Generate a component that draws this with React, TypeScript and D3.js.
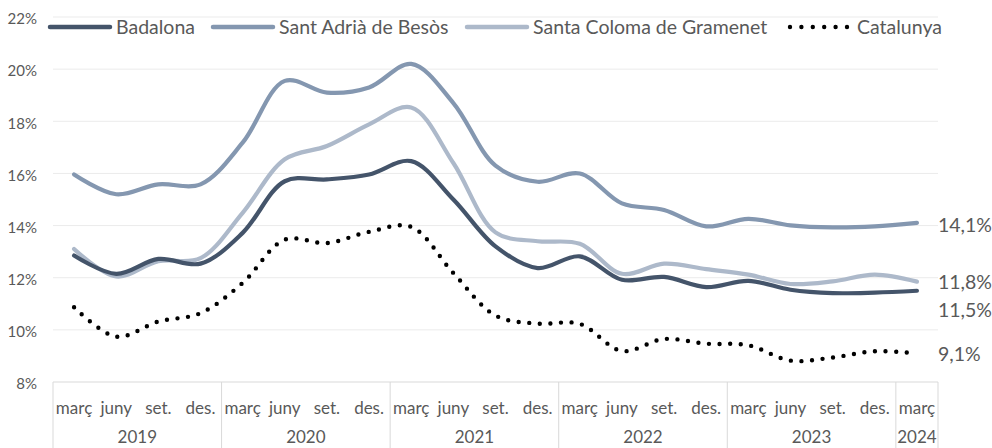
import React, { useEffect, useRef } from "react";
import * as d3 from "d3";

// quarterly labels, 2019 Q1 .. 2024 Q1
const quarters = [
  "març", "juny", "set.", "des.",
  "març", "juny", "set.", "des.",
  "març", "juny", "set.", "des.",
  "març", "juny", "set.", "des.",
  "març", "juny", "set.", "des.",
  "març",
];
const years = ["2019", "2020", "2021", "2022", "2023", "2024"];
const quartersPerYear = [4, 4, 4, 4, 4, 1];

const badalona = [12.85, 12.15, 12.72, 12.54, 13.72, 15.7, 15.77, 15.96, 16.47, 15.0, 13.2, 12.37, 12.82, 11.92, 12.03, 11.64, 11.88, 11.54, 11.41, 11.43, 11.5];
const santAdria = [15.96, 15.2, 15.58, 15.58, 17.18, 19.55, 19.1, 19.3, 20.2, 18.7, 16.3, 15.68, 16.0, 14.85, 14.6, 13.97, 14.26, 14.01, 13.93, 13.97, 14.1];
const santaColoma = [13.1, 12.05, 12.63, 12.75, 14.49, 16.54, 17.05, 17.88, 18.53, 16.4, 13.74, 13.4, 13.3, 12.15, 12.54, 12.33, 12.12, 11.76, 11.86, 12.12, 11.85];
const catalunya = [10.87, 9.74, 10.32, 10.64, 11.8, 13.46, 13.33, 13.76, 13.95, 12.18, 10.55, 10.24, 10.23, 9.19, 9.65, 9.47, 9.41, 8.82, 8.94, 9.18, 9.1];

const yTicks = [8, 10, 12, 14, 16, 18, 20, 22];

const series = [
  { name: "Badalona", values: badalona, color: "#44546a", dotted: false, labelShift: 19 },
  { name: "Sant Adrià de Besòs", values: santAdria, color: "#8497b0", dotted: false, labelShift: 2 },
  { name: "Santa Coloma de Gramenet", values: santaColoma, color: "#adb9ca", dotted: false, labelShift: 1 },
  { name: "Catalunya", values: catalunya, color: "#000000", dotted: true, labelShift: 1 },
];

const legendPos = [48, 211, 465, 787];

const W = 992;
const H = 448;
const FONT = "Lato, 'Open Sans', sans-serif";
const TEXT = "#595959";

export default function App() {
  const svgRef = useRef<SVGSVGElement>(null);

  useEffect(() => {
    const svg = d3.select(svgRef.current);
    svg.selectAll("*").remove();

    const left = 53;
    const right = 938;
    const top = 17;
    const bottom = 382;

    const x = d3
      .scaleBand<number>()
      .domain(d3.range(quarters.length))
      .range([left, right]);
    const cx = (i: number) => (x(i) as number) + x.bandwidth() / 2;
    const y = d3.scaleLinear().domain([8, 22]).range([bottom, top]);

    // gridlines
    svg
      .append("g")
      .selectAll("line")
      .data(yTicks.slice(1))
      .enter()
      .append("line")
      .attr("x1", left)
      .attr("x2", right)
      .attr("y1", (d) => y(d))
      .attr("y2", (d) => y(d))
      .attr("stroke", "#ebebeb")
      .attr("stroke-width", 1);

    // y tick labels
    svg
      .append("g")
      .selectAll("text")
      .data(yTicks)
      .enter()
      .append("text")
      .attr("x", 37)
      .attr("y", (d) => y(d) + 2)
      .attr("dy", "0.35em")
      .attr("text-anchor", "end")
      .style("font-family", FONT)
      .style("font-size", "15px")
      .style("fill", TEXT)
      .text((d) => `${d}%`);

    // category axis box
    const axis = svg.append("g");
    axis
      .append("line")
      .attr("x1", left)
      .attr("x2", right)
      .attr("y1", bottom)
      .attr("y2", bottom)
      .attr("stroke", "#d9d9d9");

    let start = 0;
    const yearStarts: number[] = [];
    quartersPerYear.forEach((n) => {
      yearStarts.push(start);
      start += n;
    });
    const separators = [...yearStarts, quarters.length];
    axis
      .selectAll("line.sep")
      .data(separators)
      .enter()
      .append("line")
      .attr("class", "sep")
      .attr("x1", (i) => (i < quarters.length ? (x(i) as number) : right))
      .attr("x2", (i) => (i < quarters.length ? (x(i) as number) : right))
      .attr("y1", bottom)
      .attr("y2", H)
      .attr("stroke", "#d9d9d9");

    axis
      .selectAll("text.q")
      .data(quarters)
      .enter()
      .append("text")
      .attr("class", "q")
      .attr("x", (_, i) => cx(i))
      .attr("y", 414)
      .attr("text-anchor", "middle")
      .style("font-family", FONT)
      .style("font-size", "17px")
      .style("fill", TEXT)
      .text((d) => d);

    // year row sits at the very bottom edge, as in the original
    axis
      .selectAll("text.yr")
      .data(years)
      .enter()
      .append("text")
      .attr("class", "yr")
      .attr("x", (_, k) => {
        const a = x(yearStarts[k]) as number;
        const b = a + quartersPerYear[k] * x.bandwidth();
        return (a + b) / 2;
      })
      .attr("y", 443)
      .attr("text-anchor", "middle")
      .style("font-family", FONT)
      .style("font-size", "17px")
      .style("fill", TEXT)
      .text((d) => d);

    // lines
    const line = d3
      .line<number>()
      .x((_, i) => cx(i))
      .y((d) => y(d))
      .curve(d3.curveCatmullRom.alpha(0.5));

    // draw light ones first so the dark line sits on top like the original
    const drawOrder = [1, 2, 0, 3];
    drawOrder.forEach((k) => {
      const s = series[k];
      svg
        .append("path")
        .datum(s.values)
        .attr("d", line)
        .attr("fill", "none")
        .attr("stroke", s.color)
        .attr("stroke-width", s.dotted ? 4.4 : 4.2)
        .attr("stroke-linecap", "round")
        .attr("stroke-dasharray", s.dotted ? "0 10.6" : null);
    });

    // end labels
    svg
      .append("g")
      .selectAll("text")
      .data(series)
      .enter()
      .append("text")
      .attr("x", 938)
      .attr("y", (s) => y(s.values[s.values.length - 1]) + s.labelShift)
      .attr("dy", "0.35em")
      .style("font-family", FONT)
      .style("font-size", "19.5px")
      .style("fill", TEXT)
      .text((s) => `${d3.format(".1f")(s.values[s.values.length - 1]).replace(".", ",")}%`);

    // legend
    const legend = svg.append("g");
    series.forEach((s, k) => {
      const lx = legendPos[k];
      legend
        .append("line")
        .attr("x1", s.dotted ? lx + 3 : lx + 2)
        .attr("x2", s.dotted ? lx + 60 : lx + 62)
        .attr("y1", 27)
        .attr("y2", 27)
        .attr("stroke", s.color)
        .attr("stroke-width", s.dotted ? 4.4 : 4.5)
        .attr("stroke-linecap", "round")
        .attr("stroke-dasharray", s.dotted ? "0 11.4" : null);
      legend
        .append("text")
        .attr("x", s.dotted ? lx + 70 : lx + 68)
        .attr("y", 27)
        .attr("dy", "0.35em")
        .style("font-family", FONT)
        .style("font-size", "19.5px")
        .style("fill", TEXT)
        .text(s.name);
    });
  }, []);

  return (
    <svg
      ref={svgRef}
      width={W}
      height={H}
      style={{ position: "absolute", left: 0, top: 0, background: "#fff" }}
    ></svg>
  );
}
